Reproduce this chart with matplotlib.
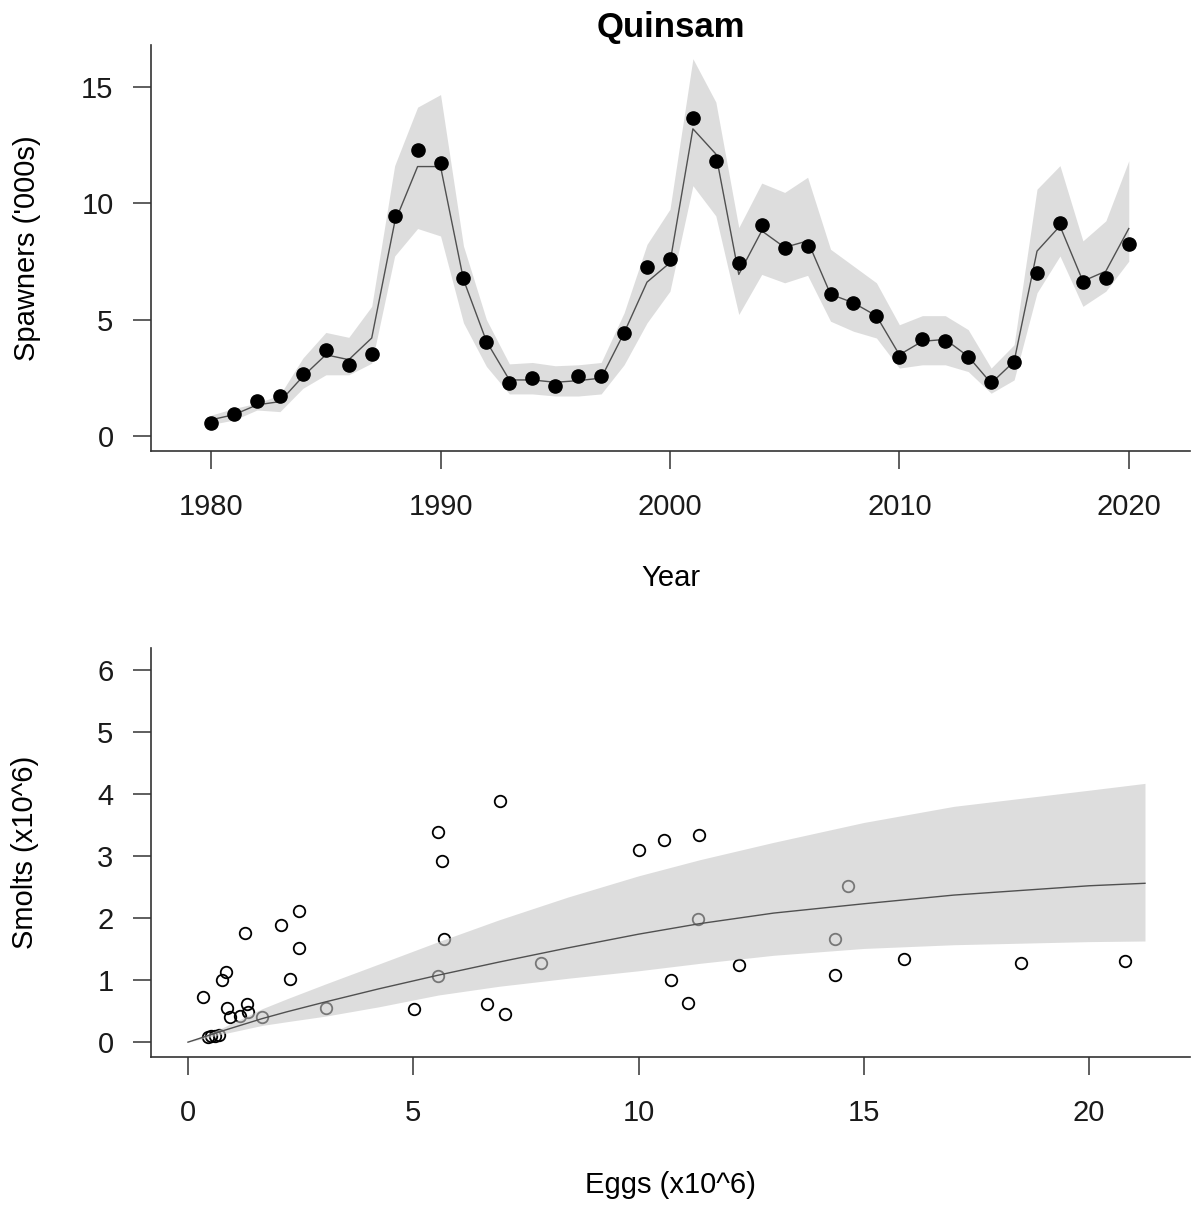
import numpy as np
import matplotlib
matplotlib.use('Agg')
import matplotlib.pyplot as plt

plt.rcParams['font.family'] = ['Liberation Sans', 'DejaVu Sans']

# --- spawner time series ('000s) ---
years = np.arange(1980, 2021)
spawn_obs = [0.55, 0.95, 1.52, 1.74, 2.66, 3.71, 3.06, 3.53, 9.45, 12.28, 11.71,
             6.78, 4.02, 2.27, 2.49, 2.17, 2.56, 2.56, 4.43, 7.25, 7.59,
             13.66, 11.80, 7.41, 9.07, 8.06, 8.15, 6.12, 5.72, 5.16, 3.38,
             4.18, 4.09, 3.38, 2.34, 3.20, 7.01, 9.14, 6.61, 6.78, 8.23]
spawn_fit = [0.70, 0.92, 1.34, 1.48, 2.56, 3.49, 3.28, 4.21, 9.17, 11.57, 11.57,
             6.72, 4.07, 2.41, 2.41, 2.31, 2.38, 2.49, 4.43, 6.61, 7.44,
             13.19, 12.11, 6.94, 8.81, 8.10, 8.38, 6.09, 5.72, 5.16, 3.49,
             4.07, 4.15, 3.42, 2.27, 3.20, 7.94, 9.02, 6.65, 7.08, 8.91]
spawn_hi = [0.90, 1.19, 1.41, 1.77, 3.35, 4.45, 4.24, 5.57, 11.61, 14.12, 14.66,
            8.16, 5.00, 3.10, 3.16, 3.02, 3.06, 3.16, 5.29, 8.23, 9.74,
            16.20, 14.34, 8.95, 10.86, 10.46, 11.11, 8.02, 7.30, 6.58, 4.78,
            5.17, 5.17, 4.57, 2.92, 3.92, 10.60, 11.61, 8.38, 9.24, 11.82]
spawn_lo = [0.50, 0.69, 1.12, 1.05, 2.05, 2.63, 2.63, 3.13, 7.73, 8.91, 8.59,
            4.86, 2.99, 1.81, 1.81, 1.72, 1.72, 1.81, 3.06, 4.86, 6.22,
            10.75, 9.45, 5.22, 6.94, 6.58, 6.90, 4.93, 4.50, 4.21, 2.92,
            3.06, 3.06, 2.77, 1.84, 2.41, 6.15, 7.73, 5.57, 6.22, 7.51]

# --- eggs vs smolts (x10^6) ---
eggs = [0.33, 0.76, 0.84, 0.87, 0.93, 1.15, 1.30, 1.34, 1.26, 1.64, 2.06, 2.47,
        2.47, 2.27, 3.06, 0.45, 0.52, 0.60, 0.68, 5.56, 5.64, 6.92, 5.69, 5.56,
        5.01, 6.64, 7.04, 7.84, 10.00, 10.56, 11.34, 11.31, 10.72, 11.09, 12.22,
        14.65, 14.35, 14.35, 15.90, 18.49, 20.79]
smolts = [0.73, 1.00, 1.13, 0.55, 0.40, 0.42, 0.61, 0.48, 1.76, 0.41, 1.89, 2.12,
          1.52, 1.01, 0.55, 0.08, 0.10, 0.10, 0.12, 3.38, 2.92, 3.89, 1.67, 1.07,
          0.53, 0.62, 0.46, 1.28, 3.10, 3.25, 3.33, 1.98, 1.00, 0.63, 1.25,
          2.52, 1.67, 1.09, 1.34, 1.28, 1.31]

curve_eggs = [0, 0.76, 1.65, 2.2, 3.06, 4.24, 5.56, 6.9, 8.44, 10, 11.36, 13, 15, 17, 20, 21.24]
curve_med = [0, 0.18, 0.38, 0.49, 0.65, 0.86, 1.08, 1.29, 1.52, 1.74, 1.91, 2.08, 2.23, 2.37, 2.52, 2.56]
curve_hi = [0, 0.23, 0.54, 0.70, 0.94, 1.26, 1.62, 1.97, 2.34, 2.68, 2.94, 3.22, 3.54, 3.80, 4.06, 4.17]
curve_lo = [0, 0.13, 0.27, 0.33, 0.42, 0.57, 0.76, 0.90, 1.03, 1.15, 1.27, 1.40, 1.51, 1.57, 1.62, 1.63]

band_col = (0.78, 0.78, 0.78)
axis_col = '#333333'
fs = 21

fig = plt.figure(figsize=(11.91, 12.15), dpi=100)
ax1 = fig.add_axes([0.1268, 0.6288, 0.8724, 0.3342])
ax2 = fig.add_axes([0.1268, 0.1300, 0.8724, 0.3366])

for ax in (ax1, ax2):
    ax.spines['top'].set_visible(False)
    ax.spines['right'].set_visible(False)
    for s in ('left', 'bottom'):
        ax.spines[s].set_color(axis_col)
        ax.spines[s].set_linewidth(1.2)
    ax.tick_params(direction='out', length=13, width=1.1, color=axis_col,
                   labelsize=fs, labelcolor='#1a1a1a')
    ax.tick_params(axis='x', pad=17)
    ax.tick_params(axis='y', pad=14)

# top panel
ax1.fill_between(years, spawn_lo, spawn_hi, color=band_col, alpha=0.6, lw=0, zorder=1)
ax1.plot(years, spawn_fit, color='#505050', lw=1.0, zorder=2)
ax1.plot(years, spawn_obs, 'o', color='black', ms=9.5, zorder=3)
ax1.set_xlim(1977.38, 2022.67)
ax1.set_ylim(-0.64, 16.79)
ax1.set_xticks([1980, 1990, 2000, 2010, 2020])
ax1.set_yticks([0, 5, 10, 15])
ax1.set_title('Quinsam', fontsize=25, fontweight='bold', pad=6)
ax1.set_xlabel('Year', fontsize=fs, va='center')
ax1.xaxis.set_label_coords(0.5, -0.313)
ax1.set_ylabel("Spawners ('000s)", fontsize=fs, va='center')
ax1.yaxis.set_label_coords(-0.119, 0.5)

# bottom panel
ax2.plot(eggs, smolts, 'o', mfc='none', mec='black', mew=1.3, ms=8.3, zorder=1)
ax2.fill_between(curve_eggs, curve_lo, curve_hi, color=band_col, alpha=0.6, lw=0, zorder=2)
ax2.plot(curve_eggs, curve_med, color='#505050', lw=1.0, zorder=3)
ax2.set_xlim(-0.82, 22.24)
ax2.set_ylim(-0.24, 6.35)
ax2.set_xticks([0, 5, 10, 15, 20])
ax2.set_yticks([0, 1, 2, 3, 4, 5, 6])
ax2.set_xlabel('Eggs (x10^6)', fontsize=fs, va='center')
ax2.xaxis.set_label_coords(0.5, -0.313)
ax2.set_ylabel('Smolts (x10^6)', fontsize=fs, va='center')
ax2.yaxis.set_label_coords(-0.121, 0.5)

fig.savefig('out.png', dpi=100)
